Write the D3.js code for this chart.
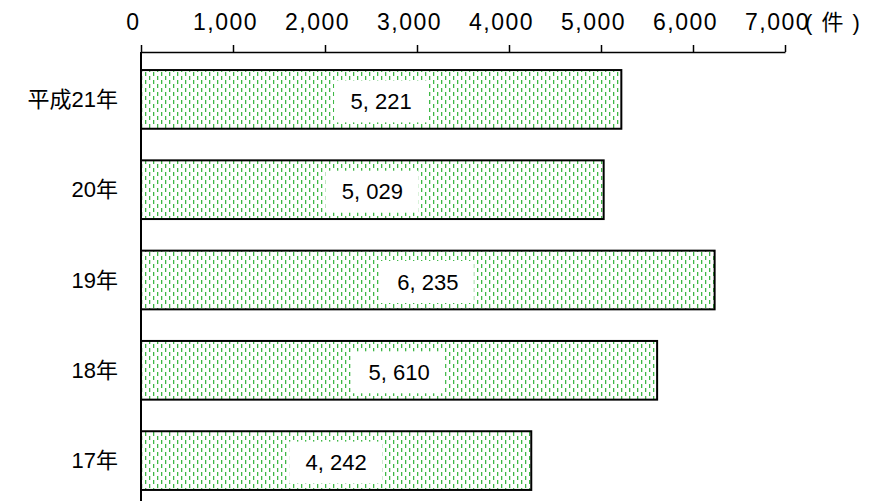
<!DOCTYPE html>
<html>
<head>
<meta charset="utf-8">
<script src="https://cdn.jsdelivr.net/npm/d3@7"></script>
<style>
  body { margin: 0; background: #fff; }
  text { font-family: "Liberation Sans", Arial, "Noto Sans CJK JP", sans-serif; fill: #000; }
</style>
</head>
<body>
<svg id="chart"></svg>
<script>
// data
var years = ["平成21年", "20年", "19年", "18年", "17年"];
var counts = [5221, 5029, 6235, 5610, 4242];
var tickValues = [0, 1000, 2000, 3000, 4000, 5000, 6000, 7000];
var unitLabel = "( 件 )";

var width = 874, height = 501;
var margin = {top: 52, left: 141, right: 89};

var svg = d3.select("#chart").attr("width", width).attr("height", height);

// dashed green fill for the bars
var green = "#3fb846", greenSoft = "#c6eac8";
var pat = svg.append("defs").append("pattern")
    .attr("id", "dots")
    .attr("patternUnits", "userSpaceOnUse")
    .attr("width", 8).attr("height", 8);
pat.append("rect").attr("width", 8).attr("height", 8).attr("fill", "#fff");
[[1, 0], [5, 4]].forEach(function(p) {
  pat.append("rect").attr("x", p[0] + 1).attr("y", p[1]).attr("width", 1).attr("height", 4).attr("fill", greenSoft);
  pat.append("rect").attr("x", p[0]).attr("y", p[1]).attr("width", 1).attr("height", 4).attr("fill", green);
});

var x = d3.scaleLinear().domain([0, 7000]).range([margin.left, width - margin.right]);
var y = d3.scaleBand().domain(years).range([margin.top, 508]).paddingInner(0.35).paddingOuter(0.2);

// top axis
var axis = svg.append("g")
    .attr("transform", "translate(0," + margin.top + ")")
    .call(d3.axisTop(x).tickValues(tickValues).tickSize(7).tickSizeOuter(0).tickFormat(d3.format(",")));
axis.select(".domain").attr("stroke", "#000").attr("stroke-width", 1.5);
axis.selectAll(".tick line").attr("stroke", "#000").attr("stroke-width", 1.5);
axis.selectAll(".tick text")
    .attr("y", -22)
    .attr("dx", -8)
    .attr("font-size", 23)
    .attr("letter-spacing", 1.5)
    .style("font-family", "'Liberation Sans', Arial, sans-serif");

svg.append("text")
    .attr("x", 805).attr("y", 30)
    .attr("font-size", 22)
    .attr("letter-spacing", 1.5)
    .text(unitLabel);

// left axis line
svg.append("line")
    .attr("x1", margin.left).attr("x2", margin.left)
    .attr("y1", margin.top).attr("y2", height)
    .attr("stroke", "#000").attr("stroke-width", 2);

// bars
var rows = svg.append("g").selectAll("g")
    .data(years.map(function(d, i) { return {year: d, value: counts[i]}; }))
    .join("g");

rows.append("rect")
    .attr("x", x(0))
    .attr("y", function(d) { return y(d.year); })
    .attr("width", function(d) { return x(d.value) - x(0); })
    .attr("height", y.bandwidth())
    .attr("fill", "url(#dots)")
    .attr("stroke", "#000")
    .attr("stroke-width", 2);

// value labels with white boxes
rows.append("rect")
    .attr("x", function(d) { return (x(0) + x(d.value)) / 2 - 47; })
    .attr("y", function(d) { return y(d.year) + y.bandwidth() / 2 - 19; })
    .attr("width", 93).attr("height", 42)
    .attr("fill", "#fff");

rows.append("text")
    .attr("x", function(d) { return (x(0) + x(d.value)) / 2; })
    .attr("y", function(d) { return y(d.year) + y.bandwidth() / 2 + 2; })
    .attr("dy", "0.35em")
    .attr("text-anchor", "middle")
    .attr("font-size", 22)
    .text(function(d) { return d3.format(",")(d.value).replace(",", ", "); });

// category labels
rows.append("text")
    .attr("x", 118)
    .attr("y", function(d) { return y(d.year) + y.bandwidth() / 2; })
    .attr("dy", "0.35em")
    .attr("text-anchor", "end")
    .attr("font-size", 22)
    .text(function(d) { return d.year; });
</script>
</body>
</html>
